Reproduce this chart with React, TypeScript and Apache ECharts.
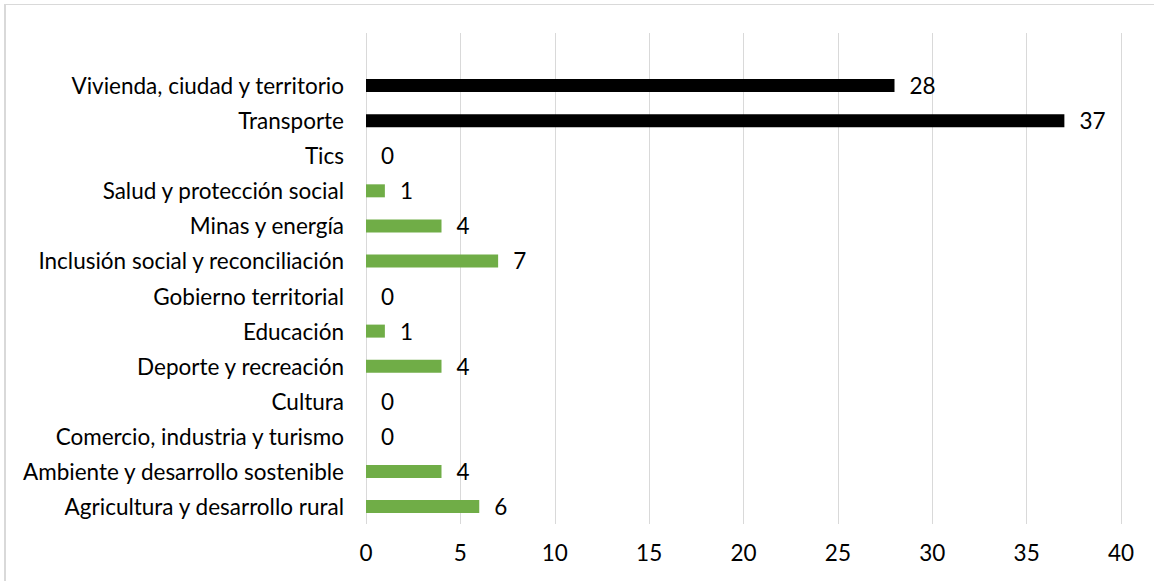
import React, { useEffect, useRef } from "react";
import * as echarts from "echarts";

const categories = [
  "Agricultura y desarrollo rural",
  "Ambiente y desarrollo sostenible",
  "Comercio, industria y turismo",
  "Cultura",
  "Deporte y recreación",
  "Educación",
  "Gobierno territorial",
  "Inclusión social y reconciliación",
  "Minas y energía",
  "Salud y protección social",
  "Tics",
  "Transporte",
  "Vivienda, ciudad y territorio",
  "",
];
const values: (number | null)[] = [6, 4, 0, 0, 4, 1, 0, 7, 4, 1, 0, 37, 28, null];
const highlighted = ["Transporte", "Vivienda, ciudad y territorio"];
const xTicks = { min: 0, max: 40, interval: 5 };

export default function App() {
  const ref = useRef<HTMLDivElement>(null);
  useEffect(() => {
    const chart = echarts.init(ref.current!, undefined, { renderer: "svg" });
    const font = "Lato, sans-serif";
    const size = 22.5;
    chart.setOption({
      animation: false,
      textStyle: { fontFamily: font },
      graphic: [
        { type: "line", shape: { x1: 4, y1: 4.5, x2: 1154, y2: 4.5 }, style: { stroke: "#d9d9d9", lineWidth: 1 } },
        { type: "line", shape: { x1: 5, y1: 4, x2: 5, y2: 581 }, style: { stroke: "#d9d9d9", lineWidth: 2 } },
      ],
      grid: { left: 366, right: 33, top: 33, bottom: 57, containLabel: false },
      xAxis: {
        type: "value",
        min: xTicks.min,
        max: xTicks.max,
        interval: xTicks.interval,
        axisLine: { show: false },
        axisTick: { show: false },
        splitLine: { lineStyle: { color: "#d9d9d9", width: 1 } },
        axisLabel: { color: "#000", fontSize: size, fontFamily: font, margin: 17 },
      },
      yAxis: {
        type: "category",
        data: categories,
        axisLine: { show: false },
        axisTick: { show: false },
        axisLabel: { color: "#000", fontSize: size, fontFamily: font, margin: 22 },
      },
      series: [
        {
          type: "bar",
          barWidth: 13,
          data: values.map((v, i) => ({
            value: v,
            itemStyle: { color: highlighted.includes(categories[i]) ? "#000000" : "#70ad47" },
          })),
          label: {
            show: true,
            position: "right",
            distance: 15,
            color: "#000",
            fontSize: size,
            fontFamily: font,
          },
        },
      ],
    });
    return () => chart.dispose();
  }, []);
  return <div ref={ref} style={{ position: "absolute", left: 0, top: 0, width: 1154, height: 581, background: "#fff" }} />;
}
